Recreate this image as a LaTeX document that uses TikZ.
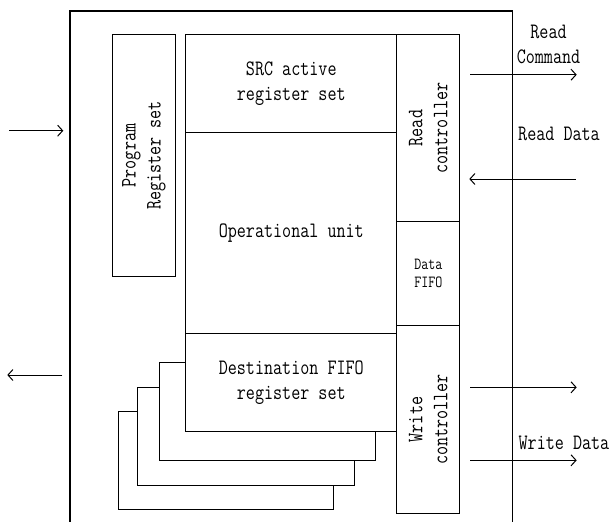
\documentclass[tikz,border=0pt]{standalone}
\usepackage{fontspec}
\newfontfamily\diagfont{Latin Modern Mono}[FakeStretch=0.8]
\usetikzlibrary{arrows.meta}

\begin{document}
\begin{tikzpicture}[
		x=1pt, y=-1pt,
		block/.style={draw, rectangle, line width=1pt, fill=white, inner sep=0pt, align=center,
			font=\diagfont\fontsize{22}{25}\selectfont},
		vblock/.style={block, rotate=90},
		plain/.style={inner sep=0pt, align=center, font=\diagfont\fontsize{22}{25}\selectfont},
		arrow/.style={-{Straight Barb[length=5pt,width=11pt]}, line width=1pt}
		]
		
		\useasboundingbox (0,0) rectangle (611,522);
		
		% outer frame, open at the bottom
		\draw[line width=1.4pt] (70,522) |- (512.7,11) -- (512.7,522);
		
		% stack of destination register sets
		\node (stackc) [block, minimum width=215pt, minimum height=98pt] at (225.8,460.7) {};
		\node (stackb) [block, minimum width=217pt, minimum height=97.7pt] at (245.8,436.2) {};
		\node (stacka) [block, minimum width=216.4pt, minimum height=98pt] at (267.5,411.7) {};
		
		\node (prog) [vblock, minimum width=242.4pt, minimum height=63.4pt] at (144,155.5) {Program\\Register set};
		\node (src) [block, minimum width=210.7pt, minimum height=98pt] at (291.3,83.3) {SRC active\\register set};
		\node (op) [block, minimum width=210.7pt, minimum height=201pt] at (291.3,232.8) {Operational unit};
		\node (dest) [block, minimum width=210.7pt, minimum height=98.4pt] at (291.3,382.5) {Destination FIFO\\register set};
		\node (rctl) [vblock, minimum width=187.4pt, minimum height=63.3pt] at (428.3,128) {Read\\controller};
		\node (fifo) [block, minimum width=63.3pt, minimum height=104pt, font=\diagfont\fontsize{17}{18}\selectfont] at (428.3,273.7) {Data\\FIFO};
		\node (wctl) [vblock, minimum width=187.6pt, minimum height=63.3pt] at (428.3,419.5) {Write\\controller};
		
		% labels of the outer signals
		\node (rcmdlbl) [plain] at (548.5,44.5) {Read\\Command};
		\node (rdatalbl) [plain] at (559,134) {Read Data};
		\node (wdatalbl) [plain] at (564,443) {Write Data};
		
		% free ends of the signals
		\coordinate (inA) at (9.3,130.7);
		\coordinate (inB) at (63.3,130.7);
		\coordinate (outA) at (62.3,375);
		\coordinate (outB) at (7.3,375);
		\coordinate (rcmdA) at (470,74.7);
		\coordinate (rcmdB) at (576.7,74.7);
		\coordinate (rdataA) at (575.7,179);
		\coordinate (rdataB) at (469.3,179);
		\coordinate (wcmdA) at (470,387.3);
		\coordinate (wcmdB) at (576.7,387.3);
		\coordinate (wdataA) at (470,460.3);
		\coordinate (wdataB) at (576.7,460.3);
		
		\draw[arrow] (inA) -- (inB);
		\draw[arrow] (outA) -- (outB);
		\draw[arrow] (rcmdA) -- (rcmdB);
		\draw[arrow] (rdataA) -- (rdataB);
		\draw[arrow] (wcmdA) -- (wcmdB);
		\draw[arrow] (wdataA) -- (wdataB);
		
	\end{tikzpicture}
\end{document}
